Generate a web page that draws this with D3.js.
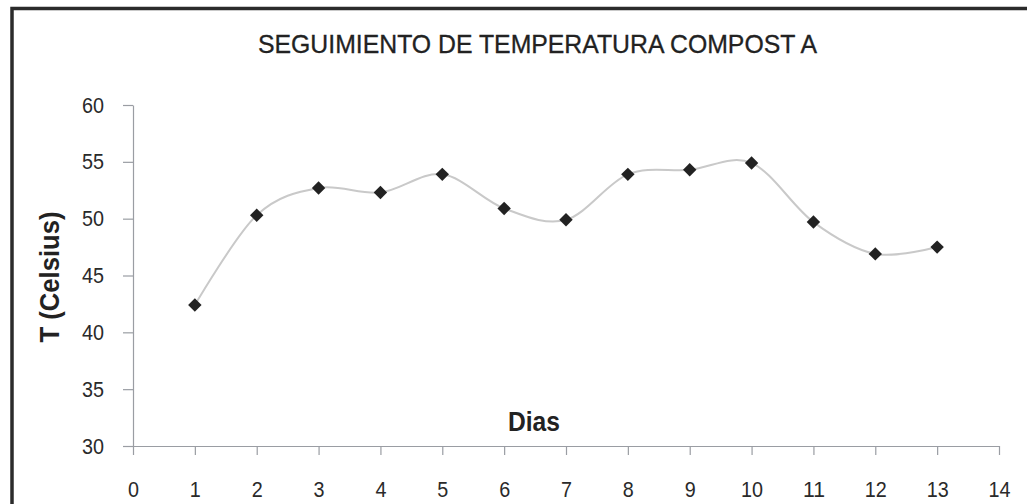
<!DOCTYPE html>
<html>
<head>
  <meta charset="utf-8">
  <title>Seguimiento de temperatura compost A</title>
  <script src="https://d3js.org/d3.v7.min.js"></script>
  <style>
    body { margin: 0; background: #fff; }
    svg { display: block; font-family: "Liberation Sans Narrow", "Liberation Sans", Arial, sans-serif; }
  </style>
</head>
<body>
  <svg id="chart"></svg>

  <script>
    // data
    let dias = [1, 2, 3, 4, 5, 6, 7, 8, 9, 10, 11, 12, 13];
    let temperatura = [42.4, 50.3, 52.7, 52.3, 53.9, 50.9, 49.9, 53.9, 54.3, 54.9, 49.7, 46.9, 47.5];
    let xTicks = d3.range(0, 15);
    let yTicks = [30, 35, 40, 45, 50, 55, 60];

    let width = 1027, height = 504;
    let svg = d3.select("#chart")
                .attr("width", width)
                .attr("height", height);

    // dark frame round the chart
    svg.append("rect")
       .attr("x", 12).attr("y", 8.5)
       .attr("width", 1100).attr("height", 600)
       .attr("fill", "none")
       .attr("stroke", "#2b2b2b")
       .attr("stroke-width", 3.5);

    let x = d3.scaleLinear().domain([0, 14]).range([133, 999]);
    let y = d3.scaleLinear().domain([30, 60]).range([446, 105]);

    // title
    svg.append("text")
       .attr("x", 537.5).attr("y", 53)
       .attr("text-anchor", "middle")
       .attr("textLength", 559)
       .attr("lengthAdjust", "spacingAndGlyphs")
       .style("font-size", "26px")
       .style("fill", "#222")
       .style("stroke", "#222")
       .style("stroke-width", 0.3)
       .text("SEGUIMIENTO DE TEMPERATURA COMPOST A");

    // y axis
    let yAxis = svg.append("g")
       .attr("transform", "translate(" + x(0) + ",0)")
       .call(d3.axisLeft(y).tickValues(yTicks).tickSizeInner(10).tickSizeOuter(0).tickPadding(19));

    // x axis
    let xAxis = svg.append("g")
       .attr("transform", "translate(0," + y(30) + ")")
       .call(d3.axisBottom(x).tickValues(xTicks).tickSizeInner(9).tickSizeOuter(0).tickPadding(26));

    // grey axis lines, narrow-looking tick labels
    [yAxis, xAxis].forEach(function(g) {
      g.select(".domain").attr("stroke", "#9a9da3").attr("stroke-width", 1.2);
      g.selectAll(".tick line").attr("stroke", "#9a9da3").attr("stroke-width", 1.2);
      g.selectAll(".tick text")
       .style("font-family", "'Liberation Sans', Arial, sans-serif")
       .style("font-size", "22px")
       .style("fill", "#2a2a2a")
       .attr("textLength", function(d) { return String(d).length * 11; })
       .attr("lengthAdjust", "spacingAndGlyphs");
    });

    // axis titles
    svg.append("text")
       .attr("transform", "translate(59,277) rotate(-90)")
       .attr("text-anchor", "middle")
       .attr("textLength", 131)
       .attr("lengthAdjust", "spacingAndGlyphs")
       .style("font-size", "27px")
       .style("font-weight", "bold")
       .style("fill", "#222")
       .text("T (Celsius)");

    svg.append("text")
       .attr("x", 534).attr("y", 431)
       .attr("text-anchor", "middle")
       .attr("textLength", 52)
       .attr("lengthAdjust", "spacingAndGlyphs")
       .style("font-size", "27px")
       .style("font-weight", "bold")
       .style("fill", "#222")
       .text("Dias");

    // smoothed line
    let points = dias.map(function(d, i) { return [d, temperatura[i]]; });
    let line = d3.line()
                 .x(function(d) { return x(d[0]); })
                 .y(function(d) { return y(d[1]); })
                 .curve(d3.curveCardinal.tension(0));

    svg.append("path")
       .datum(points)
       .attr("d", line)
       .attr("fill", "none")
       .attr("stroke", "#c9c9c9")
       .attr("stroke-width", 2);

    // diamond markers
    svg.selectAll(".marker")
       .data(points)
       .enter()
       .append("path")
       .attr("class", "marker")
       .attr("d", d3.symbol().type(d3.symbolSquare).size(90))
       .attr("transform", function(d) { return "translate(" + x(d[0]) + "," + y(d[1]) + ") rotate(45)"; })
       .attr("fill", "#222");
  </script>
</body>
</html>
